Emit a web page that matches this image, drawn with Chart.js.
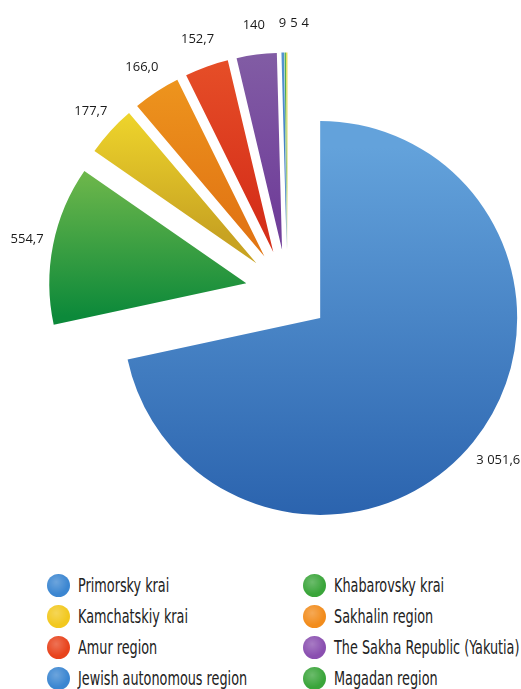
<!DOCTYPE html>
<html>
<head>
<meta charset="utf-8">
<script src="https://cdn.jsdelivr.net/npm/chart.js@4"></script>
<style>
  body { margin: 0; background: #fff; }
  #wrap { position: relative; width: 521px; height: 689px; }
  #regionPie { position: absolute; left: 0; top: 0; }
  #legend {
    position: absolute; left: 47px; top: 573px;
    display: grid; grid-template-columns: 256px 200px; grid-auto-rows: 31px;
    font-family: "DejaVu Sans Condensed", "Liberation Sans Narrow", sans-serif;
    font-size: 19px; color: #222;
  }
  .item { display: flex; align-items: center; height: 24px; white-space: nowrap; }
  .dot { width: 23px; height: 23px; border-radius: 50%; margin-right: 8px; flex: none; }
  .name { display: inline-block; transform: scaleX(0.75); transform-origin: left center; }
</style>
</head>
<body>
<div id="wrap">
  <canvas id="regionPie" width="521" height="560"></canvas>
  <div id="legend"></div>
</div>
<script>
// regions (legend) and values, the last small slice has no legend entry
const regions = [
    'Primorsky krai', 'Khabarovsky krai',
    'Kamchatskiy krai', 'Sakhalin region',
    'Amur region', 'The Sakha Republic (Yakutia)',
    'Jewish autonomous region', 'Magadan region'
];
const values = [3051.6, 554.7, 177.7, 166.0, 152.7, 140, 9, 5, 4];
const decimals = [1, 1, 1, 1, 1, 0, 0, 0, 0];

// slice colours (top -> bottom of each slice)
const topColors = ['#63a2db', '#74ba4c', '#f7e02e', '#f09c20', '#ea562b', '#8664a7', '#5b9bd5', '#5cb85c', '#e2da30'];
const bottomColors = ['#275fab', '#0c893a', '#c8a322', '#e27614', '#d6301a', '#71409a', '#3a78c0', '#3a9a3a', '#c8c020'];
const dotColors = ['#3b86d1', '#3aa53a', '#f2c81e', '#f28c1c', '#e8431c', '#8a4fb0', '#3b86d1', '#3aa53a'];

const explode = 42;

function fmt(v, d) {
    const parts = v.toFixed(d).split('.');
    parts[0] = parts[0].replace(/\B(?=(\d{3})+(?!\d))/g, ' ');
    return parts.join(',');
}

// draw every arc pushed out along its bisector, with a vertical gradient
const explodedSlices = {
    id: 'explodedSlices',
    beforeDatasetDraw(chart, args) {
        const ctx = chart.ctx;
        args.meta.data.forEach((arc, i) => {
            const mid = (arc.startAngle + arc.endAngle) / 2;
            const dx = Math.cos(mid) * explode, dy = Math.sin(mid) * explode;
            const ys = [arc.y,
                arc.y + Math.sin(arc.startAngle) * arc.outerRadius,
                arc.y + Math.sin(arc.endAngle) * arc.outerRadius];
            [-Math.PI / 2, Math.PI / 2, 3 * Math.PI / 2].forEach(a => {
                if (a > arc.startAngle && a < arc.endAngle) ys.push(arc.y + Math.sin(a) * arc.outerRadius);
            });
            const g = ctx.createLinearGradient(0, Math.min(...ys) + dy, 0, Math.max(...ys) + dy);
            g.addColorStop(0, topColors[i]);
            g.addColorStop(1, bottomColors[i]);
            arc.options.backgroundColor = g;
            ctx.save();
            ctx.translate(dx, dy);
            arc.draw(ctx);
            ctx.restore();
        });
        return false;
    },
    afterDatasetsDraw(chart) {
        const ctx = chart.ctx;
        const meta = chart.getDatasetMeta(0);
        ctx.save();
        ctx.font = '13px "Open Sans"';
        ctx.fillStyle = '#1a1a1a';
        ctx.textAlign = 'center';
        ctx.textBaseline = 'middle';
        let prev = null;
        meta.data.forEach((arc, i) => {
            const mid = (arc.startAngle + arc.endAngle) / 2;
            const ux = Math.cos(mid), uy = Math.sin(mid);
            const text = fmt(values[i], decimals[i]);
            const w = ctx.measureText(text).width;
            const dist = explode + arc.outerRadius + 10;
            let cx = arc.x + ux * dist + ux * w / 2;
            const cy = arc.y + uy * dist + uy * 19;
            if (prev && Math.abs(cy - prev.cy) < 12 && cx - w / 2 < prev.right + 4) {
                cx = prev.right + 4 + w / 2;
            }
            ctx.fillText(text, cx, cy);
            prev = { right: cx + w / 2, cy: cy };
        });
        ctx.restore();
    }
};

const regionPie = document.getElementById('regionPie').getContext('2d');
new Chart(regionPie, {
    type: 'pie',
    data: {
        labels: regions,
        datasets: [{
            data: values,
            backgroundColor: topColors,
            borderWidth: 0
        }]
    },
    options: {
        responsive: false,
        animation: false,
        radius: 197,
        layout: { padding: { left: 54, top: 23, right: 0, bottom: 0 } },
        plugins: {
            legend: { display: false },
            tooltip: { enabled: false },
            title: { display: false }
        }
    },
    plugins: [explodedSlices]
});

// html legend, two columns
const legend = document.getElementById('legend');
regions.forEach((name, i) => {
    const item = document.createElement('div');
    item.className = 'item';
    const dot = document.createElement('span');
    dot.className = 'dot';
    dot.style.background = 'radial-gradient(circle at 40% 35%, rgba(255,255,255,0.25), rgba(255,255,255,0) 60%), ' + dotColors[i];
    const label = document.createElement('span');
    label.className = 'name';
    label.textContent = name;
    item.appendChild(dot);
    item.appendChild(label);
    legend.appendChild(item);
});
</script>
</body>
</html>
